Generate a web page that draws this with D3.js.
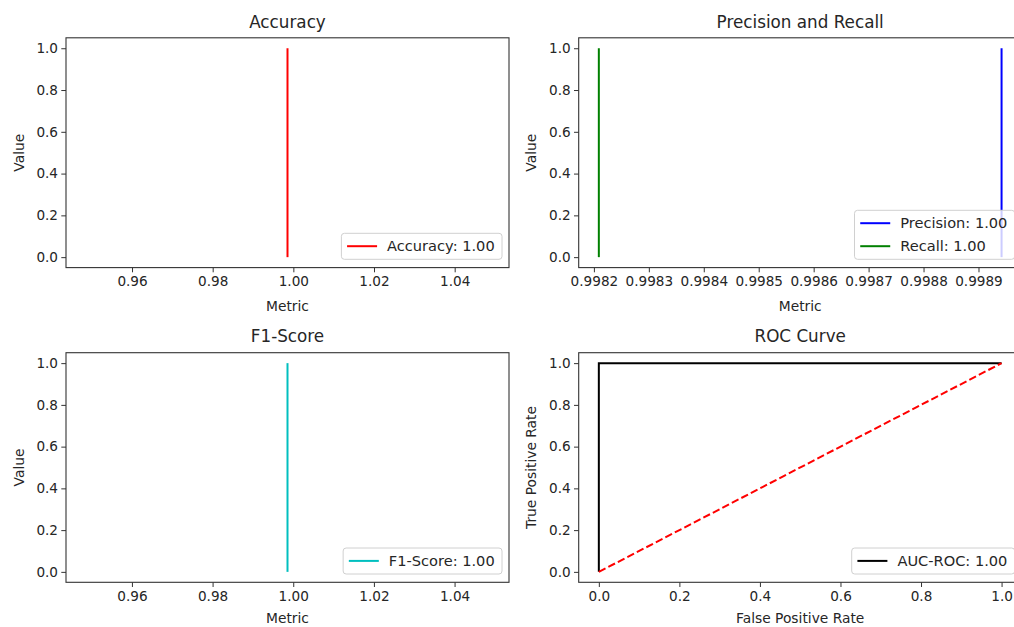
<!DOCTYPE html>
<html>
<head>
<meta charset="utf-8">
<script src="https://cdn.jsdelivr.net/npm/d3@7"></script>
<style>
  html, body { margin: 0; padding: 0; background: #fff; overflow: hidden; }
  svg { display: block; font-family: "DejaVu Sans", sans-serif; }
</style>
</head>
<body>
<svg id="chart" width="1014" height="627"></svg>
<script>
// ---- data ----
const accuracyValue = 0.99855;
const precisionValue = 0.998942;
const recallValue = 0.998209;
const f1Value = 0.998575;
const rocFpr = [0, 0, 1];
const rocTpr = [0, 1, 1];
const chanceFpr = [0, 1];
const chanceTpr = [0, 1];
const lineY = [0, 1];

const metricTicks = [0.96, 0.98, 1.00, 1.02, 1.04];
const prTicks = [0.9982, 0.9983, 0.9984, 0.9985, 0.9986, 0.9987, 0.9988, 0.9989];
const rateTicks = [0, 0.2, 0.4, 0.6, 0.8, 1.0];
const valueTicks = [0, 0.2, 0.4, 0.6, 0.8, 1.0];

const titles = ["Accuracy", "Precision and Recall", "F1-Score", "ROC Curve"];

// ---- helpers ----
const svg = d3.select("#chart");
const fmt2 = d3.format(".2f");

// matplotlib-like autoscale: expand singular ranges, then add 5% margins
function autoDomain(vals) {
  let lo = d3.min(vals), hi = d3.max(vals);
  if (hi - lo < 1e-12 * Math.max(Math.abs(lo), Math.abs(hi), 1)) {
    lo -= 0.05 * Math.abs(lo); hi += 0.05 * Math.abs(hi);
  }
  const d = (hi - lo) * 0.05;
  return [lo - d, hi + d];
}

const W = 443;
const cols = [66, 578.7];
const rows = [[37.8, 267.6], [352.7, 582.3]];
const xLabelOffset = [43.3, 40.5];
const TXT = "#262626";

function panel(opts) {
  const x0 = cols[opts.col], x1 = x0 + W;
  const [y0, y1] = rows[opts.row];
  const x = d3.scaleLinear().domain(opts.xDomain).range([x0, x1]);
  const y = d3.scaleLinear().domain(autoDomain([0, 1])).range([y1, y0]);
  const g = svg.append("g");

  // data lines
  const line = d3.line().x(d => x(d[0])).y(d => y(d[1]));
  opts.series.forEach(s => {
    g.append("path")
      .attr("d", line(d3.zip(s.x, s.y)))
      .attr("fill", "none")
      .attr("stroke", s.color)
      .attr("stroke-width", 2)
      .attr("stroke-dasharray", s.dash || null);
  });

  // axes
  const xa = d3.axisBottom(x).tickValues(opts.xTicks).tickFormat(d3.format(opts.xFmt))
    .tickSizeInner(4.7).tickSizeOuter(0).tickPadding(4.5);
  const ya = d3.axisLeft(y).tickValues(valueTicks).tickFormat(d3.format(".1f"))
    .tickSizeInner(4.7).tickSizeOuter(0).tickPadding(3.3);
  const gx = g.append("g").attr("transform", `translate(0,${y1})`).call(xa);
  const gy = g.append("g").attr("transform", `translate(${x0},0)`).call(ya);
  [gx, gy].forEach(a => {
    a.select(".domain").remove();
    a.selectAll(".tick line").attr("stroke", "#333").attr("stroke-width", 1);
    a.selectAll(".tick text").attr("fill", TXT).style("font-size", "13.6px")
      .style("font-family", "'DejaVu Sans', sans-serif");
  });

  // frame
  g.append("rect").attr("x", x0).attr("y", y0).attr("width", x1 - x0).attr("height", y1 - y0)
    .attr("fill", "none").attr("stroke", "#333").attr("stroke-width", 1.1);

  // title & labels
  g.append("text").attr("x", (x0 + x1) / 2).attr("y", y0 - 10.3)
    .attr("text-anchor", "middle").attr("fill", TXT).style("font-size", "16.8px").text(opts.title);
  g.append("text").attr("x", (x0 + x1) / 2).attr("y", y1 + xLabelOffset[opts.row])
    .attr("text-anchor", "middle").attr("fill", TXT).style("font-size", "13.8px").text(opts.xLabel);
  g.append("text").attr("transform", `translate(${x0 - 42.5},${(y0 + y1) / 2}) rotate(-90)`)
    .attr("text-anchor", "middle").attr("fill", TXT).style("font-size", "13.8px").text(opts.yLabel);

  // legend (lower right)
  const items = opts.series.filter(s => s.label);
  const lg = g.append("g");
  const box = lg.append("rect");
  const texts = [];
  const spacing = 23;
  const bh = 26 + (items.length - 1) * spacing;
  const by = y1 - 8.3 - bh;
  items.forEach((s, i) => {
    const cy = by + 12.9 + i * spacing;
    lg.append("line").attr("x1", 0).attr("x2", 30).attr("y1", cy).attr("y2", cy)
      .attr("stroke", s.color).attr("stroke-width", 2).attr("class", "h");
    texts.push(lg.append("text").attr("x", 40).attr("y", cy).attr("dy", "0.36em")
      .attr("fill", TXT).style("font-size", "14.6px").text(s.label));
  });
  const tw = d3.max(texts, t => t.node().getComputedTextLength());
  const bw = 5.7 + 30 + 10 + tw + 7.3;
  const bx = x1 - 7 - bw;
  box.attr("x", bx).attr("y", by).attr("width", bw).attr("height", bh).attr("rx", 3)
    .attr("fill", "white").attr("fill-opacity", 0.8).attr("stroke", "#d0d0d0").attr("stroke-width", 1);
  lg.selectAll("line.h").attr("transform", `translate(${bx + 5.7},0)`);
  texts.forEach(t => t.attr("transform", `translate(${bx + 5.7},0)`));
}

panel({
  col: 0, row: 0, title: titles[0], xLabel: "Metric", yLabel: "Value",
  xDomain: autoDomain([accuracyValue]), xTicks: metricTicks, xFmt: ".2f",
  series: [{ x: [accuracyValue, accuracyValue], y: lineY, color: "#ff0000",
             label: `Accuracy: ${fmt2(accuracyValue)}` }]
});

panel({
  col: 1, row: 0, title: titles[1], xLabel: "Metric", yLabel: "Value",
  xDomain: autoDomain([precisionValue, recallValue]), xTicks: prTicks, xFmt: ".4f",
  series: [
    { x: [precisionValue, precisionValue], y: lineY, color: "#0000ff",
      label: `Precision: ${fmt2(precisionValue)}` },
    { x: [recallValue, recallValue], y: lineY, color: "#008000",
      label: `Recall: ${fmt2(recallValue)}` }
  ]
});

panel({
  col: 0, row: 1, title: titles[2], xLabel: "Metric", yLabel: "Value",
  xDomain: autoDomain([f1Value]), xTicks: metricTicks, xFmt: ".2f",
  series: [{ x: [f1Value, f1Value], y: lineY, color: "#00bfbf",
             label: `F1-Score: ${fmt2(f1Value)}` }]
});

panel({
  col: 1, row: 1, title: titles[3], xLabel: "False Positive Rate", yLabel: "True Positive Rate",
  xDomain: autoDomain([0, 1]), xTicks: rateTicks, xFmt: ".1f",
  series: [
    { x: rocFpr, y: rocTpr, color: "#000000", label: `AUC-ROC: ${fmt2(1.0)}` },
    { x: chanceFpr, y: chanceTpr, color: "#ff0000", dash: "7.5,3.2" }
  ]
});
</script>
</body>
</html>
